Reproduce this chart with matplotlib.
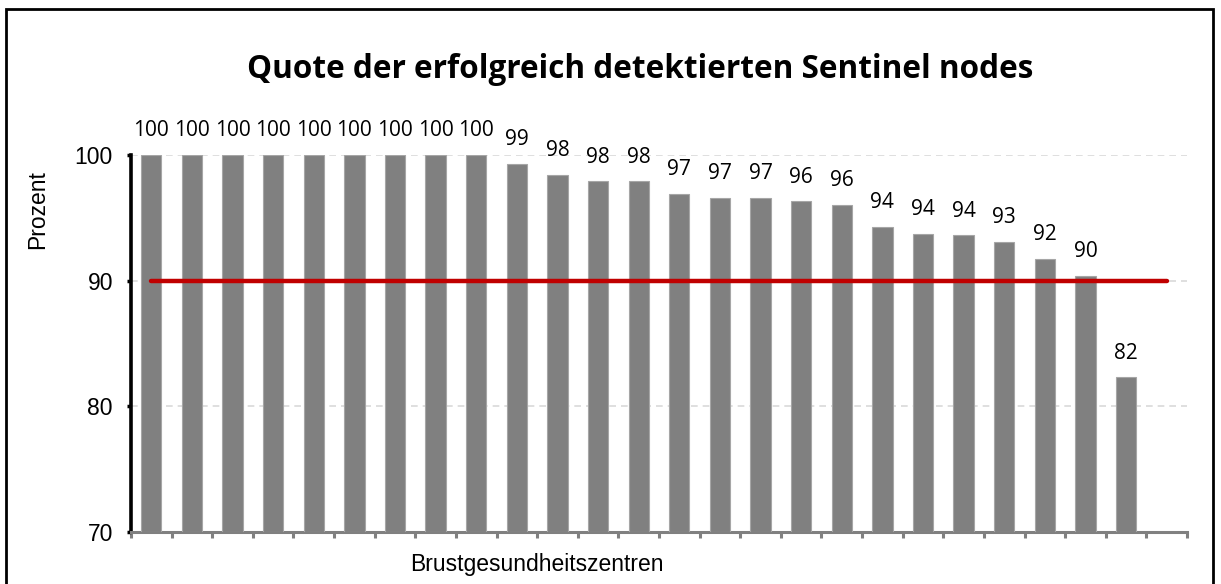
import matplotlib
matplotlib.use("Agg")
import matplotlib.pyplot as plt
import numpy as np
from matplotlib.patches import Rectangle

# ---- data ----
centres = [f"Z{i+1}" for i in range(26)]
values = [100, 100, 100, 100, 100, 100, 100, 100, 100,
          99.26, 98.4, 97.9, 97.9, 96.9, 96.6, 96.6, 96.3, 96.0,
          94.3, 93.7, 93.6, 93.1, 91.7, 90.4, 82.3, np.nan]
target = [90] * 26
yticks = [70, 80, 90, 100]

title = "Quote der erfolgreich detektierten Sentinel nodes"
xlabel = "Brustgesundheitszentren"
ylabel = "Prozent"

W, H = 1221, 584
fig = plt.figure(figsize=(W / 100, H / 100), dpi=100)
ax = fig.add_axes([131 / W, 1 - 532 / H, 1056 / W, 377 / H])

x = np.arange(len(centres))
vals = np.array(values, dtype=float)
ax.bar(x, np.nan_to_num(vals, nan=0) - 70, bottom=70, width=0.5,
       color="#808080", edgecolor="#a6a6a6", linewidth=0.8, zorder=3)
ax.plot(x, target, color="#C00000", linewidth=3.2, solid_capstyle="round", zorder=4)

for xi, v in zip(x, vals):
    if np.isnan(v):
        continue
    ax.annotate(f"{v:.0f}", (xi, v), xytext=(0, 17.5), textcoords="offset points",
                ha="center", va="center", fontsize=15, family="Open Sans",
                color="black", clip_on=False, annotation_clip=False)

ax.set_xlim(-0.5, len(centres) - 0.5)
ax.set_ylim(70, 100)
ax.set_yticks(yticks)
ax.set_yticklabels([str(t) for t in yticks], family="Liberation Sans", fontsize=16.5)
ax.set_xticks(np.arange(-0.5, len(centres), 1.0))
ax.set_xticklabels([])
ax.tick_params(axis="x", direction="out", length=4, width=2.2, color="#808080")
ax.tick_params(axis="y", direction="out", length=3, width=2.5, color="black", pad=10)

ax.yaxis.grid(True, linestyle=(0, (4, 3)), color="#d9d9d9", linewidth=1.2, zorder=0)
ax.set_axisbelow(True)
for s in ["top", "right"]:
    ax.spines[s].set_visible(False)
ax.spines["left"].set_color("black")
ax.spines["left"].set_linewidth(2.6)
ax.spines["bottom"].set_color("#808080")
ax.spines["bottom"].set_linewidth(2.2)

fig.text(640 / W, 1 - 70 / H, title, ha="center", va="center",
         fontsize=22.7, fontweight="bold", family="Open Sans")
fig.text(537 / W, 1 - 564 / H, xlabel, ha="center", va="center",
         fontsize=16.5, family="Liberation Sans")
fig.text(38 / W, 1 - 210 / H, ylabel, ha="center", va="center", rotation=90,
         fontsize=16.5, family="Liberation Sans")

fig.patches.append(Rectangle((6 / W, -0.05), (1213 - 6) / W, (1 - 9 / H) + 0.05,
                             transform=fig.transFigure, fill=False,
                             edgecolor="black", linewidth=2.0, zorder=0))

fig.savefig("out.png", dpi=100)
